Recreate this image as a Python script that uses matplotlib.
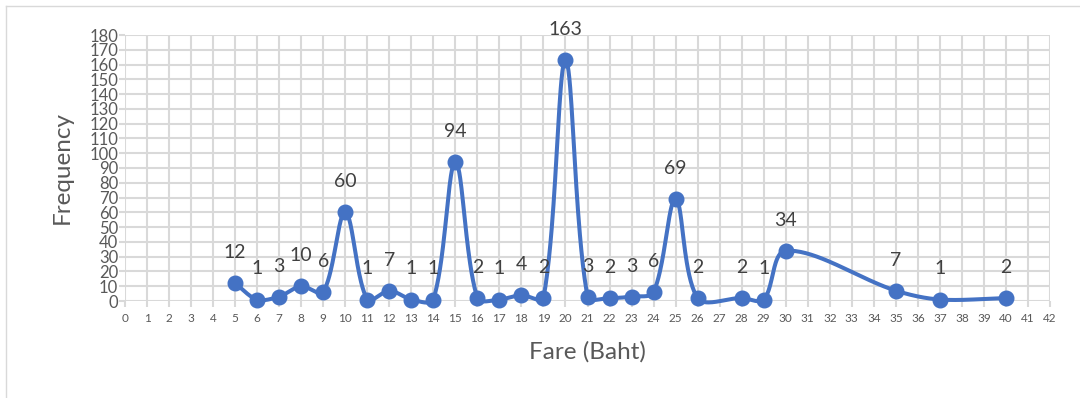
import numpy as np
import matplotlib
matplotlib.use("Agg")
import matplotlib.pyplot as plt
from matplotlib.lines import Line2D

fares = [5, 6, 7, 8, 9, 10, 11, 12, 13, 14, 15, 16, 17, 18, 19, 20,
         21, 22, 23, 24, 25, 26, 28, 29, 30, 35, 37, 40]
freqs = [12, 1, 3, 10, 6, 60, 1, 7, 1, 1, 94, 2, 1, 4, 2, 163,
         3, 2, 3, 6, 69, 2, 2, 1, 34, 7, 1, 2]
x_ticks = list(range(0, 43))
y_ticks = list(range(0, 181, 10))

plt.rcParams['font.family'] = ['Lato', 'DejaVu Sans']

LINE = '#4472C4'
GRID = '#d9d9d9'
TXT = '#595959'

X0, X1, Y0, Y1 = 125, 1050, 301, 35  # plot area in pixels


def smooth(xs, ys, sx, sy, n=40):
    """Chord-weighted Bezier smoothing (in screen space), similar to Excel's smoothed line."""
    P = np.column_stack([np.asarray(xs, float) * sx, np.asarray(ys, float) * sy])
    m = len(P)
    d = np.hypot(*np.diff(P, axis=0).T)
    out = []
    for i in range(m - 1):
        p1, p2 = P[i], P[i + 1]
        if i > 0:
            T1 = P[i + 1] - P[i - 1]
            b1 = p1 + T1 * d[i] / (d[i - 1] + d[i]) / 3.0
        else:
            b1 = p1 + (p2 - p1) / 3.0
        if i + 2 < m:
            T2 = P[i + 2] - P[i]
            b2 = p2 - T2 * d[i] / (d[i] + d[i + 1]) / 3.0
        else:
            b2 = p2 - (p2 - p1) / 3.0
        t = np.linspace(0, 1, n)[:, None]
        seg = ((1 - t) ** 3) * p1 + 3 * ((1 - t) ** 2) * t * b1 + 3 * (1 - t) * t ** 2 * b2 + t ** 3 * p2
        out.append(seg if i == 0 else seg[1:])
    pts = np.vstack(out)
    return pts[:, 0] / sx, pts[:, 1] / sy


fig = plt.figure(figsize=(10.8, 3.98), dpi=100)
ax = fig.add_axes([X0 / 1080, 1 - Y0 / 398, (X1 - X0) / 1080, (Y0 - Y1) / 398])

ax.set_xlim(0, 42)
ax.set_ylim(0, 180)
ax.set_xticks(x_ticks)
ax.set_yticks(y_ticks)
ax.grid(True, color=GRID, linewidth=1.5, zorder=0)
ax.set_axisbelow(True)
for s in ax.spines.values():
    s.set_visible(False)
ax.tick_params(axis='x', colors=GRID, length=4, width=1.5, labelcolor=TXT, labelsize=8.5, pad=5)
ax.tick_params(axis='y', colors=GRID, length=4, width=1.5, labelcolor=TXT, labelsize=12, pad=1)

sxp = (X1 - X0) / 42.0
syp = (Y0 - Y1) / 180.0
cx, cy = smooth(fares, freqs, sxp, syp)
ax.plot(cx, cy, color=LINE, linewidth=2.9, zorder=3, clip_on=False, solid_capstyle='round')
ax.plot(fares, freqs, 'o', color=LINE, markersize=10.5, zorder=4, clip_on=False)

for x, y in zip(fares, freqs):
    ax.annotate(str(y), (x, y), xytext=(0, 22), textcoords='offset points',
                ha='center', va='center', fontsize=14, color='#404040', zorder=5)

ax.set_xlabel('Fare (Baht)', fontsize=17.5, color=TXT, labelpad=12)
ax.set_ylabel('Frequency', fontsize=17.5, color=TXT, labelpad=12)

# outer chart frame
fig.add_artist(Line2D([6 / 1080, 6 / 1080], [0, 1 - 6 / 398], transform=fig.transFigure, color=GRID, linewidth=1))
fig.add_artist(Line2D([6 / 1080, 1], [1 - 6 / 398, 1 - 6 / 398], transform=fig.transFigure, color=GRID, linewidth=1))

fig.savefig('out.png', dpi=100, facecolor='white')
